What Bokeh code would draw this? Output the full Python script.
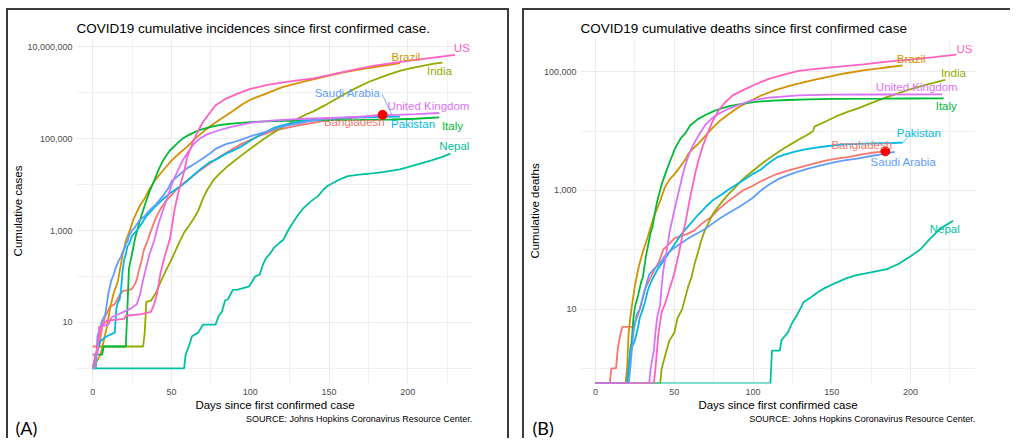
import math
from bokeh.plotting import figure
from bokeh.layouts import row, column
from bokeh.models import (Range1d, FixedTicker, NumeralTickFormatter,
                          LabelSet, ColumnDataSource, Spacer)
from bokeh.core.properties import value
from bokeh.embed import file_html
from bokeh.resources import INLINE

# ---------------- data ----------------
COUNTRIES = ["Bangladesh", "Brazil", "India", "Italy", "Nepal", "Pakistan",
             "Saudi Arabia", "United Kingdom", "US"]
COLORS = ["#F8766D", "#D39200", "#93AA00", "#00BA38", "#00C19F", "#00B9E3",
          "#619CFF", "#DB72FB", "#FF61C3"]

X_TICKS = [0, 50, 100, 150, 200]
X_MINOR = [25, 75, 125, 175, 225]
Y_TICKS_CASES = [10, 1000, 100000, 10000000]
Y_MINOR_CASES = [1, 100, 10000, 1000000]
Y_TICKS_DEATHS = [10, 1000, 100000]
Y_MINOR_DEATHS = [1, 100, 10000]

# cumulative cases: (days since first confirmed case, cases)
CASES_BANGLADESH = [(0, 3), (4, 3), (6, 8), (8, 14), (11, 22), (14, 25), (17, 39), (19, 48), (23, 51),
                    (25, 54), (27, 70), (28, 88), (29, 123), (31, 218), (32, 330), (33, 424), (35, 621),
                    (36, 803), (38, 1231), (40, 1838), (43, 2948), (46, 4186), (48, 4998), (53, 7667),
                    (58, 10929), (63, 14657), (68, 20065), (73, 26738), (78, 35585), (85, 49534),
                    (94, 74865), (104, 108775), (115, 149258), (129, 190057), (146, 240746),
                    (160, 274525), (170, 290360), (177, 314946), (184, 329251)]
CASES_BRAZIL = [(0, 1), (5, 2), (7, 4), (9, 8), (11, 20), (13, 40), (16, 80), (19, 300), (21, 600),
                (23, 900), (26, 1800), (30, 3500), (33, 5000), (36, 8000), (40, 13000), (45, 21000),
                (50, 33000), (55, 48000), (60, 67000), (65, 100000), (70, 140000), (75, 190000),
                (80, 250000), (88, 380000), (95, 560000), (100, 700000), (110, 950000),
                (120, 1300000), (130, 1600000), (140, 1950000), (150, 2350000), (160, 2800000),
                (170, 3200000), (180, 3650000), (190, 4100000), (195, 4400000)]
CASES_INDIA = [(0, 1), (2, 2), (4, 3), (32, 3), (33, 6), (34, 28), (37, 30), (40, 43), (43, 75),
               (46, 125), (49, 200), (52, 330), (55, 560), (58, 900), (61, 1250), (64, 1800),
               (67, 2700), (70, 5000), (73, 8000), (77, 13000), (81, 18000), (85, 24000),
               (89, 31000), (94, 42000), (100, 60000), (105, 80000), (110, 105000), (115, 135000),
               (121, 180000), (128, 250000), (135, 330000), (140, 390000), (147, 520000),
               (153, 680000), (160, 930000), (167, 1250000), (175, 1700000), (182, 2100000),
               (189, 2550000), (196, 3050000), (203, 3450000), (210, 3850000), (216, 4200000),
               (222, 4500000)]
CASES_ITALY = [(0, 2), (6, 2), (7, 3), (21, 3), (22, 20), (23, 150), (25, 320), (27, 700),
               (30, 1700), (33, 3500), (36, 7000), (39, 12000), (42, 22000), (45, 35000),
               (49, 55000), (53, 75000), (57, 100000), (62, 125000), (68, 155000), (75, 180000),
               (82, 200000), (90, 215000), (100, 228000), (115, 240000), (140, 250000),
               (170, 255000), (190, 260000), (205, 270000), (220, 290000)]
CASES_NEPAL = [(0, 1), (58, 1), (59, 2), (61, 3), (63, 5), (67, 6), (70, 9), (78, 9), (80, 14),
               (82, 17), (84, 30), (86, 32), (88, 45), (89, 51), (92, 52), (99, 60), (101, 75),
               (103, 100), (106, 110), (108, 180), (110, 250), (113, 330), (115, 420), (118, 520),
               (121, 630), (124, 1000), (127, 1470), (130, 2100), (133, 2870), (138, 4200),
               (143, 5600), (146, 7500), (149, 9300), (154, 11500), (158, 13500), (162, 15300),
               (169, 16500), (179, 17700), (185, 18800), (195, 21400), (205, 26700),
               (215, 33500), (222, 40000), (227, 47200)]
CASES_PAKISTAN = [(0, 1), (2, 2), (5, 4), (9, 5), (14, 6), (15, 20), (16, 28), (17, 31), (18, 53),
                  (19, 136), (20, 236), (21, 299), (22, 454), (23, 501), (25, 776), (28, 1000),
                  (31, 1400), (34, 2039), (39, 3157), (44, 4601), (49, 6505), (54, 8418),
                  (59, 11155), (64, 16117), (69, 22413), (74, 30334), (79, 35788), (84, 45898),
                  (89, 54601), (94, 66457), (99, 85264), (105, 113702), (110, 139230),
                  (115, 171666), (120, 192970), (126, 213470), (133, 240000), (140, 255769),
                  (150, 270000), (160, 281000), (170, 288000), (180, 293000), (195, 300000)]
CASES_SAUDI = [(0, 1), (2, 1), (3, 5), (6, 11), (8, 15), (10, 45), (12, 86), (13, 103), (15, 171),
               (17, 238), (18, 274), (19, 344), (20, 392), (21, 511), (22, 562), (23, 767),
               (25, 1012), (27, 1203), (30, 1720), (33, 2039), (36, 2752), (40, 3651), (44, 5369),
               (48, 8274), (50, 11631), (55, 16299), (60, 22753), (65, 28656), (70, 37136),
               (75, 49176), (78, 59854), (85, 76726), (90, 85261), (95, 95748), (100, 112288),
               (107, 132048), (113, 150292), (120, 182493), (128, 205929), (135, 232259),
               (142, 250920), (150, 272590), (160, 286755), (170, 297315), (180, 307479),
               (190, 323012)]
CASES_UK = [(0, 2), (3, 2), (4, 8), (10, 9), (12, 13), (18, 16), (24, 20), (28, 25), (30, 40),
            (32, 85), (34, 160), (36, 300), (39, 600), (42, 1500), (45, 3000), (48, 6000),
            (51, 12000), (54, 20000), (57, 33000), (60, 48000), (64, 75000), (68, 100000),
            (73, 125000), (79, 148000), (88, 180000), (100, 220000), (115, 250000),
            (135, 270000), (160, 290000), (185, 320000), (205, 340000), (220, 360000)]
CASES_US = [(0, 1), (2, 2), (4, 5), (5, 8), (9, 11), (20, 12), (21, 14), (30, 15), (37, 17),
            (39, 25), (41, 45), (43, 118), (46, 300), (49, 650), (52, 2900), (54, 6000),
            (56, 11000), (58, 19000), (60, 40000), (62, 60000), (64, 90000), (67, 150000),
            (70, 230000), (74, 350000), (78, 530000), (85, 750000), (92, 950000),
            (100, 1200000), (110, 1450000), (120, 1650000), (130, 1850000), (140, 2050000),
            (150, 2400000), (160, 2850000), (170, 3350000), (180, 3900000), (190, 4400000),
            (200, 4900000), (210, 5400000), (220, 6000000), (230, 6600000)]

# cumulative deaths: (days since first confirmed case, deaths)
DEATHS_BANGLADESH = [(0, 0), (9, 0), (10, 1), (13, 1), (14, 2), (15, 3), (16, 4), (17, 5), (24, 5),
                     (25, 6), (27, 8), (29, 12), (31, 20), (33, 27), (35, 34), (38, 50), (40, 60),
                     (43, 101), (46, 120), (50, 155), (54, 170), (58, 183), (63, 214), (68, 283),
                     (73, 349), (78, 480), (84, 650), (90, 850), (94, 1012), (100, 1200),
                     (104, 1388), (110, 1650), (115, 1888), (122, 2150), (129, 2424),
                     (138, 2800), (146, 3184), (153, 3440), (160, 3638), (170, 4100),
                     (177, 4351), (184, 4552)]
DEATHS_BRAZIL = [(0, 0), (19, 0), (20, 1), (21, 4), (22, 7), (23, 11), (25, 25), (27, 46), (28, 59),
                 (30, 92), (31, 111), (33, 159), (35, 241), (37, 359), (39, 486), (41, 667),
                 (44, 1124), (47, 1532), (49, 1736), (52, 2171), (54, 2587), (57, 3313),
                 (59, 4205), (62, 5083), (65, 6006), (69, 7921), (74, 11123), (79, 14962),
                 (84, 18859), (90, 24512), (96, 29937), (105, 39680), (115, 49976),
                 (126, 60632), (140, 74133), (150, 84000), (157, 92475), (171, 106523),
                 (180, 113500), (188, 121381), (195, 127464)]
DEATHS_INDIA = [(0, 0), (41, 0), (42, 1), (45, 2), (47, 3), (50, 4), (52, 7), (55, 10), (57, 16),
                (59, 25), (61, 35), (63, 60), (65, 90), (67, 140), (69, 200), (71, 260), (74, 380),
                (77, 500), (81, 680), (85, 900), (89, 1150), (93, 1500), (97, 1850), (101, 2250),
                (106, 2900), (111, 3600), (117, 4600), (123, 5800), (129, 7200), (134, 8500),
                (138, 9900), (139, 11900), (146, 14500), (153, 17800), (160, 21000),
                (167, 24300), (175, 29500), (184, 36500), (191, 42500), (198, 49000),
                (205, 55500), (210, 60500), (215, 65300), (222, 72800)]
DEATHS_ITALY = [(0, 0), (20, 0), (21, 1), (22, 2), (23, 3), (24, 7), (25, 11), (27, 17), (29, 29),
                (30, 34), (32, 79), (33, 107), (35, 197), (36, 233), (38, 463), (39, 631),
                (41, 1016), (42, 1266), (44, 1809), (45, 2158), (47, 2978), (49, 4032),
                (50, 4825), (52, 6077), (54, 7503), (57, 9134), (60, 12428), (65, 15887),
                (70, 18849), (75, 21645), (80, 24114), (85, 26384), (91, 28236), (98, 30201),
                (105, 31610), (113, 32486), (122, 33415), (135, 34223), (152, 34767),
                (183, 35141), (200, 35400), (221, 35553)]
DEATHS_NEPAL = [(0, 0), (111, 0), (112, 2), (117, 2), (118, 3), (122, 4), (125, 6), (128, 8),
                (132, 13), (137, 16), (142, 20), (146, 23), (153, 28), (159, 33), (165, 37),
                (174, 41), (185, 47), (193, 59), (200, 78), (206, 100), (212, 150), (219, 229),
                (227, 307)]
DEATHS_PAKISTAN = [(0, 0), (20, 0), (21, 1), (22, 2), (25, 3), (27, 5), (28, 7), (31, 12), (33, 20),
                   (35, 28), (39, 45), (44, 70), (49, 111), (54, 176), (59, 253), (65, 385),
                   (70, 530), (74, 667), (80, 850), (84, 1017), (90, 1280), (96, 1621),
                   (100, 1900), (105, 2255), (110, 2900), (115, 3590), (120, 4000), (126, 4473),
                   (133, 4900), (140, 5266), (148, 5600), (157, 5951), (164, 6050), (171, 6153),
                   (180, 6230), (188, 6298), (195, 6400)]
DEATHS_SAUDI = [(0, 0), (21, 0), (22, 1), (24, 4), (26, 8), (28, 10), (30, 16), (32, 25), (34, 38),
                (37, 47), (39, 52), (42, 65), (44, 79), (47, 92), (49, 103), (54, 127), (60, 162),
                (65, 191), (69, 219), (74, 273), (79, 339), (85, 425), (91, 525), (96, 640),
                (100, 760), (105, 1000), (110, 1250), (116, 1550), (121, 1752), (128, 2050),
                (135, 2325), (143, 2650), (152, 2984), (159, 3230), (166, 3436), (175, 3800),
                (183, 4130), (190, 4458)]
DEATHS_UK = [(0, 0), (34, 0), (35, 1), (37, 2), (38, 4), (39, 7), (41, 12), (42, 25), (43, 45),
             (45, 90), (47, 200), (49, 350), (51, 600), (53, 1000), (55, 1700), (57, 2700),
             (59, 3800), (61, 5200), (63, 6500), (66, 9000), (70, 13000), (74, 16500),
             (78, 19500), (84, 23500), (90, 27000), (99, 33000), (110, 36500), (129, 40000),
             (150, 41000), (180, 41300), (220, 41600)]
DEATHS_US = [(0, 0), (37, 0), (38, 1), (40, 4), (42, 9), (44, 12), (47, 22), (50, 40), (53, 90),
             (55, 170), (57, 280), (59, 550), (61, 1000), (63, 1800), (65, 3000), (68, 5500),
             (71, 9000), (74, 14000), (78, 22000), (82, 30000), (87, 40000), (95, 51000),
             (102, 62000), (110, 76000), (120, 90000), (129, 103000), (140, 112000),
             (155, 122000), (170, 133000), (185, 148000), (200, 160000), (215, 176000),
             (229, 194000)]

CASES = [CASES_BANGLADESH, CASES_BRAZIL, CASES_INDIA, CASES_ITALY, CASES_NEPAL,
         CASES_PAKISTAN, CASES_SAUDI, CASES_UK, CASES_US]
DEATHS = [DEATHS_BANGLADESH, DEATHS_BRAZIL, DEATHS_INDIA, DEATHS_ITALY, DEATHS_NEPAL,
          DEATHS_PAKISTAN, DEATHS_SAUDI, DEATHS_UK, DEATHS_US]
HIGHLIGHT = "Bangladesh"

TITLE_A = "COVID19 cumulative incidences since first confirmed case."
TITLE_B = "COVID19 cumulative deaths since first confirmed case"
YLABEL_A = "Cumulative cases"
YLABEL_B = "Cumulative deaths"
XLABEL = "Days since first confirmed case"
SOURCE = "SOURCE: Johns Hopkins Coronavirus Resource Center."

# ---------------- styling / placement (pixels) ----------------
FONT = "Liberation Sans"
FRAME_W, FRAME_H = 393, 343
STRIP_H = 26
# label offsets from each series' last point, in screen px (dx right, dy down)
LABEL_OFF_A = {"Bangladesh": (-28, 7.5), "Brazil": (6, -6), "India": (-3, 8), "Italy": (13, 8.3),
               "Nepal": (4, -7.4), "Pakistan": (13, 7.3), "Saudi Arabia": (-44, -22),
               "United Kingdom": (-10.7, -6.8), "US": (6.7, -7)}
LABEL_OFF_B = {"Bangladesh": (-23.5, -6.5), "Brazil": (8.4, -6.8), "India": (8.1, -7.1),
               "Italy": (2.6, 7.8), "Nepal": (-8.3, 8), "Pakistan": (16, -9.5),
               "Saudi Arabia": (8.6, 10), "United Kingdom": (-25.2, -7.2), "US": (8.2, -6)}
LEADER_A = {"Saudi Arabia": (-10, -21)}
LEADER_B = {"Pakistan": (5, -5)}
BORDER = "2px solid #3C3C3C"


def make_panel(title, ylabel, series, yticks, yminor, xr, ylog, borders, label_off, leaders,
               css):
    yr = (10 ** ylog[0], 10 ** ylog[1])
    left, right, top, bottom = borders
    p = figure(frame_width=FRAME_W, frame_height=FRAME_H,
               x_range=Range1d(*xr), y_range=Range1d(*yr), y_axis_type="log",
               output_backend="svg", toolbar_location=None,
               min_border_left=left, min_border_right=right,
               min_border_top=top, min_border_bottom=bottom)
    p.styles = css
    p.outline_line_color = None
    p.background_fill_color = "white"
    p.border_fill_color = "white"

    ppd = FRAME_W / (xr[1] - xr[0])
    ppdec = FRAME_H / (ylog[1] - ylog[0])

    def shift(d, v, dx, dy):
        return d + dx / ppd, v * 10 ** (-dy / ppdec)

    # grid / axes
    p.xaxis.ticker = FixedTicker(ticks=X_TICKS, minor_ticks=X_MINOR)
    p.yaxis.ticker = FixedTicker(ticks=yticks, minor_ticks=yminor)
    p.yaxis.formatter = NumeralTickFormatter(format="0,0")
    for g in (p.xgrid, p.ygrid):
        g.grid_line_color = "#EBEBEB"
        g.grid_line_width = 1.1
        g.minor_grid_line_color = "#EBEBEB"
        g.minor_grid_line_width = 0.7
    for ax in (p.xaxis, p.yaxis):
        ax.axis_line_color = None
        ax.major_tick_line_color = None
        ax.minor_tick_line_color = None
        ax.major_tick_out = 0
        ax.major_tick_in = 0
        ax.minor_tick_out = 0
        ax.minor_tick_in = 0
        ax.major_label_text_font = FONT
        ax.major_label_text_font_size = "9px"
        ax.major_label_text_color = "#4D4D4D"
        ax.axis_label_text_font = FONT
        ax.axis_label_text_font_size = "11.5px"
        ax.axis_label_text_font_style = "normal"
        ax.axis_label_text_color = "black"
    p.xaxis.axis_label = XLABEL
    p.yaxis.axis_label = ylabel
    p.xaxis.major_label_standoff = 5
    p.yaxis.major_label_standoff = 4
    p.xaxis.axis_label_standoff = 1
    p.yaxis.axis_label_standoff = 0

    # title
    p.title.text = title
    p.title.align = "left"
    p.title.text_font = FONT
    p.title.text_font_size = "13.5px"
    p.title.text_font_style = "normal"
    p.title.text_color = "black"
    p.title.standoff = 6
    p.title.offset = 0

    # lines
    lab_x, lab_y, lab_t, lab_c = [], [], [], []
    for name, color, pts in zip(COUNTRIES, COLORS, series):
        xs = [d for d, v in pts]
        ys = [v if v > 0 else yr[0] for d, v in pts]
        p.line(xs, ys, line_color=color, line_width=1.8)
        d_end, v_end = pts[-1]
        if name in leaders:
            dx, dy = leaders[name]
            x2, y2 = shift(d_end, v_end, dx, dy)
            p.segment(x0=[d_end], y0=[v_end], x1=[x2], y1=[y2], line_color=color, line_width=0.8)
        dx, dy = label_off[name]
        lx, ly = shift(d_end, v_end, dx, dy)
        lab_x.append(lx)
        lab_y.append(ly)
        lab_t.append(name)
        lab_c.append(color)

    src = ColumnDataSource(dict(x=lab_x, y=lab_y, text=lab_t, color=lab_c))
    p.add_layout(LabelSet(x="x", y="y", text="text", source=src, text_color="color",
                          text_font=value(FONT), text_font_size=value("11.5px"),
                          text_align="center", text_baseline="middle"))

    # highlighted point
    hi = series[COUNTRIES.index(HIGHLIGHT)][-1]
    p.scatter([hi[0]], [hi[1]], size=9, color="#FF0000")
    return p


def make_strip(canvas_w, border_w, tag, tag_x, source_x, css):
    # bottom strip of a panel: panel tag and source note (pixel coordinates)
    s = figure(width=canvas_w + border_w, height=STRIP_H, title=None, toolbar_location=None,
               output_backend="svg", x_range=Range1d(0, canvas_w), y_range=Range1d(STRIP_H, 0),
               x_axis_location=None, y_axis_location=None,
               min_border_left=0, min_border_right=0, min_border_top=0, min_border_bottom=0)
    s.styles = css
    s.outline_line_color = None
    s.background_fill_color = "white"
    s.border_fill_color = "white"
    s.grid.visible = False
    s.text(x=[source_x], y=[6], text=[SOURCE], text_align="right", text_baseline="middle",
           text_font=value(FONT), text_font_size=value("9px"), text_color="black")
    s.text(x=[tag_x], y=[15], text=[tag], text_align="left", text_baseline="middle",
           text_font=value("Lato"), text_font_size=value("18px"), text_color="black")
    return s


# borders: (min_border_left, right, top, bottom)
pA = make_panel(TITLE_A, YLABEL_A, CASES, Y_TICKS_CASES, Y_MINOR_CASES,
                (-10.3, 241.7), (-0.328, 7.177), (68, 38, 28, 31),
                LABEL_OFF_A, LEADER_A,
                {"border-top": BORDER, "border-left": BORDER, "border-right": BORDER})
pB = make_panel(TITLE_B, YLABEL_B, DEATHS, Y_TICKS_DEATHS, Y_MINOR_DEATHS,
                (-9.57, 241.2), (-0.254, 5.56), (56, 37, 28, 31),
                LABEL_OFF_B, LEADER_B,
                {"border-top": BORDER, "border-left": BORDER})
sA = make_strip(499, 4, "(A)", 7, 460, {"border-left": BORDER, "border-right": BORDER})
sB = make_strip(486, 2, "(B)", 8, 449, {"border-left": BORDER})

# strips wrapped in their own rows so their frames are not aligned to the plots above
layout = column(Spacer(height=8),
                row(Spacer(width=6), column(pA, row(sA)), Spacer(width=13), column(pB, row(sB))))
open("out.html", "w").write(file_html(layout, INLINE))
